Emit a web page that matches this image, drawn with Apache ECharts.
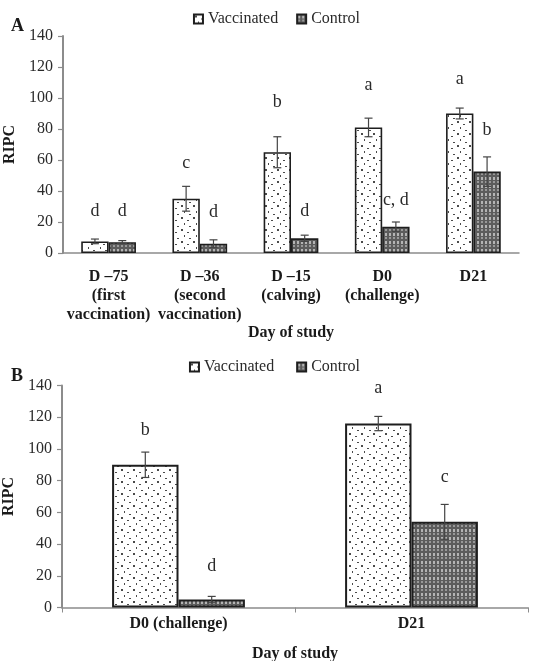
<!DOCTYPE html>
<html>
<head>
<meta charset="utf-8">
<script src="https://cdn.jsdelivr.net/npm/echarts@6/dist/echarts.min.js"></script>
<style>
  html, body { margin: 0; padding: 0; background: #fff; }
  #chart { width: 553px; height: 661px; }
</style>
</head>
<body>
<div id="chart"></div>
<script>
// Panel A: RIPC over the study days
var daysA = ['D \u201375\n(first\nvaccination)', 'D \u201336\n(second\nvaccination)', 'D \u201315\n(calving)', 'D0\n(challenge)', 'D21'];
var vaccinatedA = [7.5, 35, 65, 81, 90];
var vaccinatedErrA = [1.5, 8, 10, 6, 3.5];
var vaccinatedLetterA = ['d', 'c', 'b', 'a', 'a'];
var vaccinatedLetterPosA = [27, 58, 97, 108, 112];
var controlA = [7, 6, 9.5, 17, 52.5];
var controlErrA = [1, 2.5, 2, 3, 9.5];
var controlLetterA = ['d', 'd', 'd', 'c, d', 'b'];
var controlLetterPosA = [27, 26, 27, 34, 79];

// Panel B: RIPC at challenge and three weeks later
var daysB = ['D0 (challenge)', 'D21'];
var vaccinatedB = [90, 116];
var vaccinatedErrB = [8, 4.5];
var vaccinatedLetterB = ['b', 'a'];
var vaccinatedLetterPosB = [112, 138];
var controlB = [5, 54];
var controlErrB = [2, 11];
var controlLetterB = ['d', 'c'];
var controlLetterPosB = [26, 82];

function makePattern(kind) {
  var c = document.createElement('canvas');
  var ctx = c.getContext('2d');
  if (kind === 'dots') {
    c.width = 12; c.height = 12;
    ctx.fillStyle = '#ffffff';
    ctx.fillRect(0, 0, 12, 12);
    ctx.fillStyle = '#4a4a4a';
    ctx.fillRect(1, 1, 2, 2);
    ctx.fillRect(7, 4, 2, 1);
    ctx.fillRect(4, 7, 1, 2);
    ctx.fillRect(9, 10, 2, 1);
  } else {
    c.width = 8; c.height = 8;
    ctx.fillStyle = '#5c5c5c';
    ctx.fillRect(0, 0, 8, 8);
    ctx.fillStyle = '#b4b4b4';
    ctx.fillRect(1, 1, 2, 3);
    ctx.fillRect(5, 1, 2, 3);
    ctx.fillStyle = '#999999';
    ctx.fillRect(1, 5, 2, 2);
    ctx.fillRect(5, 5, 2, 2);
  }
  return { image: c, repeat: 'repeat' };
}

var dotFill = makePattern('dots');
var gridFill = makePattern('grid');
var serif = '"Liberation Serif", "DejaVu Serif", serif';

function rows(vals, errs, letterPos) {
  return vals.map(function (v, i) { return [i, v, errs[i], letterPos[i]]; });
}

// Error bar with caps, plus the significance letter above it
function errorRenderer(side, gap, letters) {
  return function (params, api) {
    var idx = api.value(0), mean = api.value(1), err = api.value(2), lp = api.value(3);
    var band = api.size([1, 0])[0];
    var barW = band * (1 - gap) / 2;
    var x = api.coord([idx, mean])[0] + side * barW / 2;
    var top = api.coord([idx, mean + err])[1];
    var bot = api.coord([idx, mean - err])[1];
    var ly = api.coord([idx, lp])[1];
    var cap = 4;
    var st = { stroke: '#444', lineWidth: 1.2 };
    return {
      type: 'group',
      children: [
        { type: 'line', shape: { x1: x, y1: top, x2: x, y2: bot }, style: st },
        { type: 'line', shape: { x1: x - cap, y1: top, x2: x + cap, y2: top }, style: st },
        { type: 'line', shape: { x1: x - cap, y1: bot, x2: x + cap, y2: bot }, style: st },
        { type: 'text', x: x, y: ly, style: { text: letters[params.dataIndex], fill: '#2a2a2a', font: '18px ' + serif, align: 'center', verticalAlign: 'middle' } }
      ]
    };
  };
}

var chart = echarts.init(document.getElementById('chart'), null, { renderer: 'canvas' });

function yAxisFor(gridIndex) {
  return {
    type: 'value', gridIndex: gridIndex, min: 0, max: 140, interval: 20,
    name: 'RIPC', nameLocation: 'middle', nameGap: 44, nameRotate: 90,
    nameTextStyle: { fontFamily: serif, fontWeight: 'bold', fontSize: 16, color: '#1a1a1a' },
    axisLine: { show: true, lineStyle: { color: '#8c8c8c', width: 2 } },
    axisTick: { show: true, length: 5, lineStyle: { color: '#8c8c8c', width: 1.2 } },
    axisLabel: { fontFamily: serif, fontSize: 16, color: '#2a2a2a', margin: 10 },
    splitLine: { show: false }
  };
}

function xAxisFor(gridIndex, cats, showTick, labelMargin, nameGap) {
  return {
    type: 'category', gridIndex: gridIndex, data: cats,
    name: 'Day of study', nameLocation: 'middle', nameGap: nameGap,
    nameTextStyle: { fontFamily: serif, fontWeight: 'bold', fontSize: 16, color: '#1a1a1a' },
    axisLine: { show: true, lineStyle: { color: '#8c8c8c', width: 1.5 } },
    axisTick: { show: showTick, length: 5, lineStyle: { color: '#8c8c8c' } },
    axisLabel: { fontFamily: serif, fontWeight: 'bold', fontSize: 16, color: '#1a1a1a', margin: labelMargin, lineHeight: 19, interval: 0 },
    splitLine: { show: false }
  };
}

var legendText = { fontFamily: serif, fontSize: 16, color: '#2a2a2a' };

chart.setOption({
  animation: false,
  backgroundColor: '#ffffff',
  title: [
    { text: 'A', left: 6, top: 12, textStyle: { fontFamily: serif, fontWeight: 'bold', fontSize: 18, color: '#1a1a1a' } },
    { text: 'B', left: 6, top: 362, textStyle: { fontFamily: serif, fontWeight: 'bold', fontSize: 18, color: '#1a1a1a' } }
  ],
  legend: [
    { data: ['Vaccinated', 'Control'], top: 6, left: 'center', itemWidth: 9, itemHeight: 9, itemGap: 18, icon: 'rect', textStyle: legendText },
    { data: ['Vaccinated ', 'Control '], top: 354, left: 'center', itemWidth: 9, itemHeight: 9, itemGap: 18, icon: 'rect', textStyle: legendText }
  ],
  grid: [
    { left: 63, right: 34, top: 36, height: 217, outerBoundsMode: 'none', containLabel: false },
    { left: 62, right: 25, top: 385.5, height: 222, outerBoundsMode: 'none', containLabel: false }
  ],
  xAxis: [xAxisFor(0, daysA, false, 14, 67), xAxisFor(1, daysB, true, 7, 38)],
  yAxis: [yAxisFor(0), yAxisFor(1)],
  series: [
    { name: 'Vaccinated', type: 'bar', xAxisIndex: 0, yAxisIndex: 0, data: vaccinatedA, barGap: '0%', barCategoryGap: '40%',
      itemStyle: { color: dotFill, borderColor: '#1e1e1e', borderWidth: 1.6 } },
    { name: 'Control', type: 'bar', xAxisIndex: 0, yAxisIndex: 0, data: controlA, barGap: '0%', barCategoryGap: '40%',
      itemStyle: { color: gridFill, borderColor: '#1e1e1e', borderWidth: 1.6 } },
    { type: 'custom', xAxisIndex: 0, yAxisIndex: 0, renderItem: errorRenderer(-1, 0.4, vaccinatedLetterA), data: rows(vaccinatedA, vaccinatedErrA, vaccinatedLetterPosA), z: 5 },
    { type: 'custom', xAxisIndex: 0, yAxisIndex: 0, renderItem: errorRenderer(1, 0.4, controlLetterA), data: rows(controlA, controlErrA, controlLetterPosA), z: 5 },

    { name: 'Vaccinated ', type: 'bar', xAxisIndex: 1, yAxisIndex: 1, data: vaccinatedB, barGap: '0%', barCategoryGap: '43%',
      itemStyle: { color: dotFill, borderColor: '#1e1e1e', borderWidth: 2 } },
    { name: 'Control ', type: 'bar', xAxisIndex: 1, yAxisIndex: 1, data: controlB, barGap: '0%', barCategoryGap: '43%',
      itemStyle: { color: gridFill, borderColor: '#1e1e1e', borderWidth: 2 } },
    { type: 'custom', xAxisIndex: 1, yAxisIndex: 1, renderItem: errorRenderer(-1, 0.43, vaccinatedLetterB), data: rows(vaccinatedB, vaccinatedErrB, vaccinatedLetterPosB), z: 5 },
    { type: 'custom', xAxisIndex: 1, yAxisIndex: 1, renderItem: errorRenderer(1, 0.43, controlLetterB), data: rows(controlB, controlErrB, controlLetterPosB), z: 5 }
  ]
});
</script>
</body>
</html>
